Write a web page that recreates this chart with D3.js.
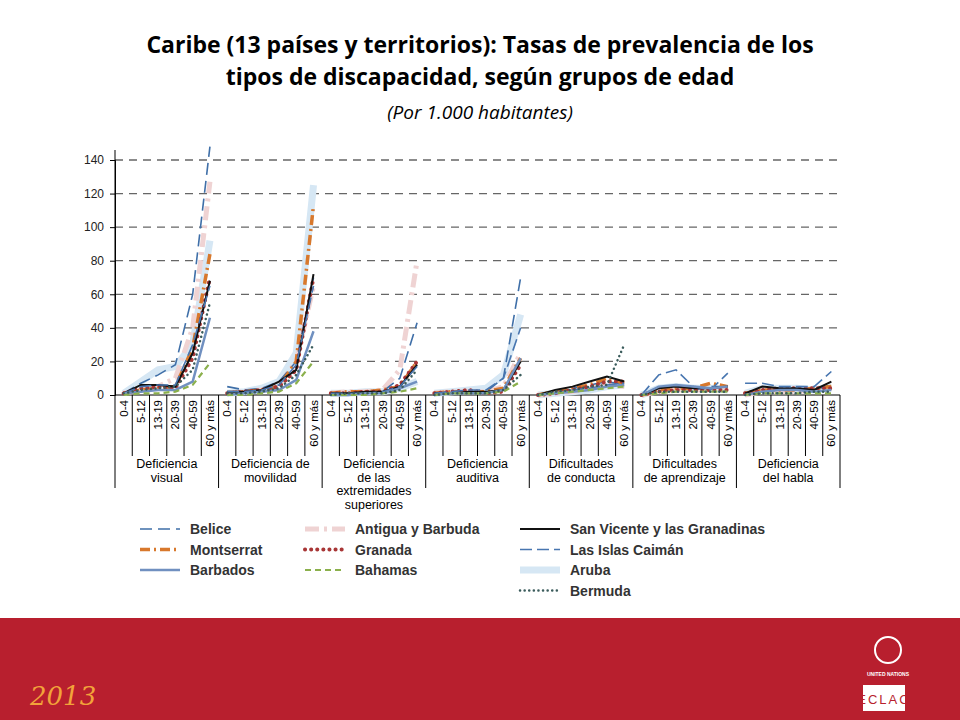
<!DOCTYPE html>
<html><head><meta charset="utf-8">
<script src="https://cdn.jsdelivr.net/npm/d3@7"></script>
<style>body{margin:0;background:#fff}svg{display:block}</style>
</head><body>
<svg id="c" width="960" height="720"></svg>
<script>
const ages = ["0-4", "5-12", "13-19", "20-39", "40-59", "60 y más"]
const groups = [
  ["Deficiencia", "visual"],
  ["Deficiencia de", "movilidad"],
  ["Deficiencia", "de las", "extremidades", "superiores"],
  ["Deficiencia", "auditiva"],
  ["Dificultades", "de conducta"],
  ["Dificultades", "de aprendizaje"],
  ["Deficiencia", "del habla"]
]
const yTicks = [0, 20, 40, 60, 80, 100, 120, 140]

// one row per group, six age values each
const belice = [[1,7,12,18,60,148],[5,3,4,8,20,70],[1,1,2,2,10,43],[1,2,2,2,10,70],[0,2,4,6,8,6],[0,4,5,3,5,5],[1,3,3,3,3,6]]
const antigua = [[1,3,5,10,40,127],[1,2,3,6,20,65],[1,2,2,3,15,80],[1,2,2,2,5,25],[0,1,2,4,6,5],[0,2,3,3,3,4],[0,2,2,2,3,4]]
const sanVicente = [[1,6,6,5,25,68],[2,2,3,8,15,72],[1,1,2,2,5,18],[1,1,2,2,3,20],[0,3,5,8,11,8],[0,4,5,4,4,5],[1,5,4,4,3,8]]
const montserrat = [[1,3,4,5,28,84],[1,2,3,5,20,113],[1,2,2,3,5,20],[1,2,2,2,4,22],[0,2,4,6,10,7],[0,3,4,4,7,5],[1,3,3,3,4,5]]
const granada = [[1,4,5,4,22,70],[1,2,3,5,15,70],[1,1,2,2,6,20],[1,2,3,1,2,18],[0,1,3,5,8,8],[0,2,3,3,3,3],[1,3,4,4,4,4]]
const caiman = [[1,5,6,6,30,65],[2,2,3,6,18,65],[1,1,1,2,5,17],[1,2,3,3,10,40],[0,1,3,4,6,7],[0,12,15,5,3,13],[7,7,5,5,5,14]]
const barbados = [[1,2,3,3,8,46],[0,1,2,3,9,38],[0,0,1,1,4,8],[0,1,1,1,3,22],[0,1,2,3,5,6],[0,5,6,5,4,5],[0,2,3,3,2,3]]
const bahamas = [[0,1,1,2,6,19],[0,0,1,2,7,20],[0,0,0,1,2,4],[0,1,1,1,2,8],[0,1,2,3,4,5],[0,1,2,2,2,2],[0,1,1,1,1,1]]
const aruba = [[1,8,15,17,30,92],[1,2,4,8,25,125],[1,1,2,2,4,8],[1,2,3,4,12,48],[0,1,2,3,5,6],[0,4,5,4,4,3],[1,4,4,4,3,5]]
const bermuda = [[1,3,4,5,15,55],[1,1,2,4,12,30],[0,1,1,1,3,15],[0,1,1,1,3,12],[0,2,3,5,6,30],[0,2,2,2,2,2],[0,1,1,1,2,2]]

const series = [
  {name: "Aruba", data: aruba, color: "#d6e7f4", w: 7, dash: null},
  {name: "Antigua y Barbuda", data: antigua, color: "#efd3d3", w: 5, dash: "14,5,3,5"},
  {name: "Belice", data: belice, color: "#3f6fa8", w: 1.6, dash: "12,6"},
  {name: "Montserrat", data: montserrat, color: "#d8782c", w: 3.5, dash: "10,4,2,4"},
  {name: "Granada", data: granada, color: "#a83636", w: 4, dash: "0.1,6"},
  {name: "San Vicente y las Granadinas", data: sanVicente, color: "#111", w: 2, dash: null},
  {name: "Las Islas Caimán", data: caiman, color: "#4876b0", w: 1.6, dash: "12,5"},
  {name: "Barbados", data: barbados, color: "#7090c0", w: 2.5, dash: null},
  {name: "Bahamas", data: bahamas, color: "#8bb04c", w: 2.2, dash: "6,4"},
  {name: "Bermuda", data: bermuda, color: "#3b5c5c", w: 2.5, dash: "0.1,4.5"}
]

const svg = d3.select("#c")
const font = "'Open Sans', 'Liberation Sans', sans-serif"

// title
svg.append("text").attr("x", 480).attr("y", 53).attr("text-anchor", "middle")
  .style("font", "bold 23px " + font).text("Caribe (13 países y territorios): Tasas de prevalencia de los")
svg.append("text").attr("x", 480).attr("y", 85).attr("text-anchor", "middle")
  .style("font", "bold 23px " + font).text("tipos de discapacidad, según grupos de edad")
svg.append("text").attr("x", 480).attr("y", 119).attr("text-anchor", "middle")
  .style("font", "italic 19px " + font).text("(Por 1.000 habitantes)")

const x0 = 115, x1 = 840
const y = d3.scaleLinear().domain([0, 140]).range([395, 160])
const xg = d3.scaleBand().domain(d3.range(groups.length)).range([x0, x1])
const xa = d3.scaleBand().domain(d3.range(ages.length)).range([0, xg.bandwidth()])

// grid
svg.append("g").selectAll("line").data(yTicks.slice(1)).join("line")
  .attr("x1", x0).attr("x2", x1).attr("y1", d => y(d)).attr("y2", d => y(d))
  .attr("stroke", "#666").attr("stroke-width", 1.3).attr("stroke-dasharray", "8,6")

const yAxis = svg.append("g").attr("transform", `translate(${x0},0)`)
  .call(d3.axisLeft(y).tickValues(yTicks).tickSize(5).tickPadding(6))
yAxis.select(".domain").attr("stroke", "#000")
yAxis.selectAll("text").style("font", "12px 'Liberation Sans', Arial, sans-serif").attr("fill", "#222")
yAxis.selectAll(".tick line").attr("stroke", "#000")
svg.append("line").attr("x1", x0).attr("x2", x0).attr("y1", 150).attr("y2", 395).attr("stroke", "#000")
svg.append("line").attr("x1", x0).attr("x2", x1).attr("y1", 395).attr("y2", 395).attr("stroke", "#000")

// category table
const cat = svg.append("g")
groups.forEach((g, gi) => {
  const gx = xg(gi)
  ages.forEach((a, ai) => {
    const cx = gx + xa(ai)
    cat.append("line").attr("x1", cx).attr("x2", cx).attr("y1", 395)
      .attr("y2", ai === 0 ? 488 : 456).attr("stroke", "#000")
    cat.append("text").attr("transform", `translate(${cx + xa.bandwidth() / 2 + 4},${400}) rotate(-90)`)
      .attr("text-anchor", "end").style("font", "11.5px 'Liberation Sans', Arial, sans-serif").text(a)
  })
  g.forEach((t, ti) => {
    cat.append("text").attr("x", gx + xg.bandwidth() / 2).attr("y", 468 + ti * 13.5)
      .attr("text-anchor", "middle").style("font", "12.5px 'Liberation Sans', Arial, sans-serif").text(t)
  })
})
cat.append("line").attr("x1", x1).attr("x2", x1).attr("y1", 395).attr("y2", 488).attr("stroke", "#000")

// lines
const line = d3.line().x(d => d[0]).y(d => y(d[1]))
series.forEach(s => {
  s.data.forEach((vals, gi) => {
    const pts = vals.map((v, ai) => [xg(gi) + xa(ai) + xa.bandwidth() / 2, v])
    svg.append("path").attr("d", line(pts)).attr("fill", "none")
      .attr("stroke", s.color).attr("stroke-width", s.w)
      .attr("stroke-linecap", s.dash && s.dash.startsWith("0.1") ? "round" : "butt")
      .attr("stroke-dasharray", s.dash)
  })
})

// legend
const legendCols = [
  {x: 140, names: ["Belice", "Montserrat", "Barbados"]},
  {x: 305, names: ["Antigua y Barbuda", "Granada", "Bahamas"]},
  {x: 520, names: ["San Vicente y las Granadinas", "Las Islas Caimán", "Aruba", "Bermuda"]}
]
legendCols.forEach(col => {
  col.names.forEach((n, i) => {
    const s = series.find(d => d.name === n)
    const ly = 529 + i * 20.5
    svg.append("line").attr("x1", col.x).attr("x2", col.x + 40).attr("y1", ly).attr("y2", ly)
      .attr("stroke", s.color).attr("stroke-width", s.w)
      .attr("stroke-linecap", s.dash && s.dash.startsWith("0.1") ? "round" : "butt")
      .attr("stroke-dasharray", s.dash)
    svg.append("text").attr("x", col.x + 50).attr("y", ly + 5)
      .style("font", "bold 14px 'Liberation Sans', Arial, sans-serif").attr("fill", "#333").text(n)
  })
})

// footer band
svg.append("rect").attr("x", 0).attr("y", 618).attr("width", 960).attr("height", 102).attr("fill", "#b81f2e")
svg.append("text").attr("x", 30).attr("y", 705).style("font", "italic 26px 'DejaVu Serif', serif")
  .attr("fill", "#f2a33a").text("2013")
svg.append("circle").attr("cx", 888).attr("cy", 650).attr("r", 13).attr("fill", "none").attr("stroke", "#fff").attr("stroke-width", 2)
svg.append("text").attr("x", 888).attr("y", 676).attr("text-anchor", "middle")
  .style("font", "bold 5px 'Liberation Sans', sans-serif").attr("fill", "#fff").text("UNITED NATIONS")
svg.append("rect").attr("x", 863).attr("y", 685).attr("width", 42).attr("height", 26).attr("fill", "#fff")
svg.append("text").attr("x", 884).attr("y", 704).attr("text-anchor", "middle")
  .style("font", "13px 'Liberation Sans', sans-serif").attr("fill", "#b81f2e").attr("letter-spacing", 2).text("ECLAC")
</script>
</body></html>
